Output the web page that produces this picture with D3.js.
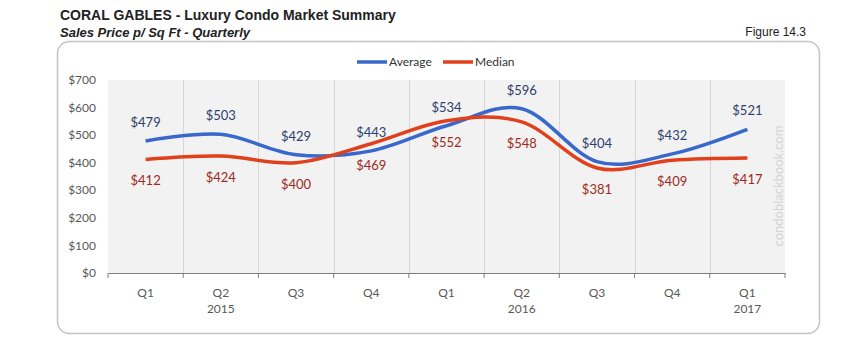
<!DOCTYPE html>
<html>
<head>
<meta charset="utf-8">
<script src="https://cdn.jsdelivr.net/npm/d3@7"></script>
<style>
  body { margin: 0; background: #fff; }
  svg { display: block; }
</style>
</head>
<body>
<svg id="chart"></svg>
<script>
// données
const quarters = ["Q1", "Q2", "Q3", "Q4", "Q1", "Q2", "Q3", "Q4", "Q1"];
const years = ["", "2015", "", "", "", "2016", "", "", "2017"];
const averageValues = [479, 503, 429, 443, 534, 596, 404, 432, 521];
const medianValues = [412, 424, 400, 469, 552, 548, 381, 409, 417];
const yTicks = [0, 100, 200, 300, 400, 500, 600, 700];

const width = 867, height = 343;
const svg = d3.select("#chart").attr("width", width).attr("height", height);

const font = "Lato, 'Open Sans', sans-serif";
const blue = "#3868cc", red = "#e0411c";

// titres
svg.append("text").attr("x", 60).attr("y", 20)
    .attr("font-family", "Liberation Sans, Arial").attr("font-weight", "bold")
    .attr("font-size", 14).attr("fill", "#222")
    .text("CORAL GABLES - Luxury Condo Market Summary");
svg.append("text").attr("x", 60).attr("y", 37)
    .attr("font-family", "Liberation Sans, Arial").attr("font-weight", "bold")
    .attr("font-style", "italic").attr("font-size", 13).attr("fill", "#222")
    .text("Sales Price p/ Sq Ft - Quarterly");
svg.append("text").attr("x", 806).attr("y", 36).attr("text-anchor", "end")
    .attr("font-family", "Liberation Sans, Arial").attr("font-size", 12).attr("fill", "#222")
    .text("Figure 14.3");

// cadre arrondi
svg.append("rect").attr("x", 57.5).attr("y", 41.5).attr("width", 762).attr("height", 292)
    .attr("rx", 12).attr("fill", "#fff").attr("stroke", "#c4c4c4").attr("stroke-width", 1.5);

const plot = { left: 108, right: 785, top: 80, bottom: 273 };

const x = d3.scaleBand().domain(d3.range(quarters.length))
    .range([plot.left, plot.right]);
const y = d3.scaleLinear().domain([0, 700]).range([plot.bottom, plot.top]);

// fond gris de la zone de tracé
svg.append("rect").attr("x", plot.left).attr("y", plot.top)
    .attr("width", plot.right - plot.left).attr("height", plot.bottom - plot.top)
    .attr("fill", "#f2f2f2");

// lignes verticales
svg.selectAll(".vgrid").data(d3.range(1, quarters.length))
    .enter().append("line").attr("class", "vgrid")
    .attr("x1", d => Math.round(x(d)) + 0.5).attr("x2", d => Math.round(x(d)) + 0.5)
    .attr("y1", plot.top).attr("y2", plot.bottom)
    .attr("stroke", "#d6d6d6").attr("stroke-width", 1);

// filigrane
svg.append("text")
    .attr("transform", `translate(783, 186) rotate(-90)`)
    .attr("text-anchor", "middle")
    .attr("font-family", font).attr("font-size", 13).attr("fill", "#d4d4d4")
    .text("condoblackbook.com");

// axe Y
svg.selectAll(".ylab").data(yTicks).enter().append("text").attr("class", "ylab")
    .attr("x", 96).attr("y", d => y(d)).attr("dy", "0.35em")
    .attr("text-anchor", "end").attr("font-family", font).attr("font-size", 12)
    .attr("fill", "#595959").text(d => "$" + d);

// axe X
const xAxis = d3.axisBottom(x).tickSize(0).tickFormat("");
svg.append("g").attr("transform", `translate(0, ${plot.bottom})`).call(xAxis)
    .call(g => g.select(".domain").attr("stroke", "#7f7f7f").attr("stroke-width", 1.2));
svg.selectAll(".xtick").data(d3.range(quarters.length + 1)).enter().append("line")
    .attr("class", "xtick")
    .attr("x1", d => (d < quarters.length ? x(d) : plot.right))
    .attr("x2", d => (d < quarters.length ? x(d) : plot.right))
    .attr("y1", plot.bottom).attr("y2", plot.bottom + 5)
    .attr("stroke", "#7f7f7f");

svg.selectAll(".qlab").data(quarters).enter().append("text").attr("class", "qlab")
    .attr("x", (d, i) => x(i) + x.bandwidth() / 2).attr("y", 297)
    .attr("text-anchor", "middle").attr("font-family", font).attr("font-size", 12)
    .attr("fill", "#595959").text(d => d);
svg.selectAll(".ylab2").data(years).enter().append("text").attr("class", "ylab2")
    .attr("x", (d, i) => x(i) + x.bandwidth() / 2).attr("y", 313)
    .attr("text-anchor", "middle").attr("font-family", font).attr("font-size", 12)
    .attr("fill", "#595959").text(d => d);

// courbes lissées
const cx = i => x(i) + x.bandwidth() / 2;
const line = d3.line().x((d, i) => cx(i)).y(d => y(d))
    .curve(d3.curveCardinal.tension(0));

svg.append("path").datum(averageValues).attr("d", line)
    .attr("fill", "none").attr("stroke", blue).attr("stroke-width", 3.5);
svg.append("path").datum(medianValues).attr("d", line)
    .attr("fill", "none").attr("stroke", red).attr("stroke-width", 3.5);

// étiquettes
svg.selectAll(".avglab").data(averageValues).enter().append("text").attr("class", "avglab")
    .attr("x", (d, i) => cx(i)).attr("y", d => y(d) - 14)
    .attr("text-anchor", "middle").attr("font-family", font).attr("font-size", 13)
    .attr("fill", "#2f3f6e").text(d => "$" + d);
svg.selectAll(".medlab").data(medianValues).enter().append("text").attr("class", "medlab")
    .attr("x", (d, i) => cx(i)).attr("y", d => y(d) + 26)
    .attr("text-anchor", "middle").attr("font-family", font).attr("font-size", 13)
    .attr("fill", "#9e2a22").text(d => "$" + d);

// légende
const legendItems = [{ name: "Average", color: blue, x: 357 }, { name: "Median", color: red, x: 443 }];
const legend = svg.selectAll(".leg").data(legendItems).enter().append("g")
    .attr("class", "leg").attr("transform", d => `translate(${d.x}, 62)`);
legend.append("line").attr("x1", 0).attr("x2", 30).attr("y1", 0).attr("y2", 0)
    .attr("stroke", d => d.color).attr("stroke-width", 3.5);
legend.append("text").attr("x", 32).attr("y", 0).attr("dy", "0.35em")
    .attr("font-family", font).attr("font-size", 12).attr("fill", "#333")
    .text(d => d.name);
</script>
</body>
</html>
